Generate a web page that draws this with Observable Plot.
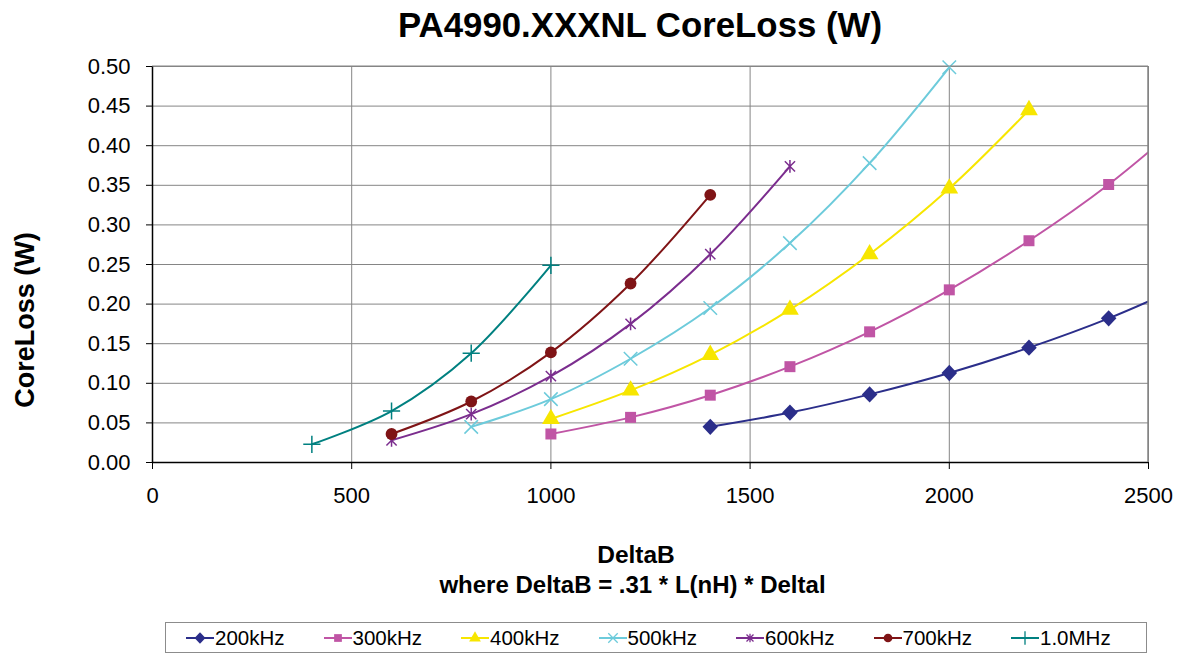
<!DOCTYPE html>
<html>
<head>
<meta charset="utf-8">
<script src="https://cdn.jsdelivr.net/npm/d3@7"></script>
<script src="https://cdn.jsdelivr.net/npm/@observablehq/plot@0.6"></script>
<style>
  html, body { margin: 0; padding: 0; background: #fff; }
  body { font-family: "Liberation Sans", Arial, sans-serif; }
  #wrap { position: relative; width: 1183px; height: 654px; overflow: hidden; }
  .abs { position: absolute; white-space: nowrap; }
  #title { left: 0; width: 1280px; top: 5px; text-align: center; font-size: 34.8px; font-weight: bold; line-height: 40px; }
  #ylab { left: -175px; width: 400px; top: 303px; height: 34px; line-height: 34px; text-align: center; font-size: 27px; font-weight: bold; transform: rotate(-90deg); }
  #chart { left: 0; top: 50px; }
  #xlab { left: 0; width: 1272px; top: 540px; text-align: center; font-size: 24.5px; font-weight: bold; line-height: 30px; }
  #xsub { left: 0; width: 1265px; top: 571px; text-align: center; font-size: 24px; font-weight: bold; line-height: 28px; }
  #legend { left: 165px; top: 622px; width: 982px; height: 31px; border: 1px solid #8c8c8c; box-sizing: border-box; }
  .item { position: absolute; top: 0; height: 29px; display: flex; align-items: center; font-size: 20.5px; }
  .item svg { display: block; }
</style>
</head>
<body>
<div id="wrap">
  <div id="title" class="abs">PA4990.XXXNL CoreLoss (W)</div>
  <div id="chart" class="abs"></div>
  <div id="ylab" class="abs">CoreLoss (W)</div>
  <div id="xlab" class="abs">DeltaB</div>
  <div id="xsub" class="abs">where DeltaB = .31 * L(nH) * Deltal</div>
  <div id="legend" class="abs"></div>
</div>
<script>
// ---- data ----
const seriesNames = ["200kHz", "300kHz", "400kHz", "500kHz", "600kHz", "700kHz", "1.0MHz"];
const seriesColors = ["#2b2e8a", "#c055a5", "#f7e600", "#6dcbdb", "#7b2d8e", "#7f1416", "#008080"];
const seriesSymbols = ["diamond", "square", "triangle", "times", "star", "circle", "plus"];
const seriesFilled = [true, true, true, false, false, true, false];

const x200 = [1400, 1600, 1800, 2000, 2200, 2400, 2600];
const y200 = [0.045, 0.063, 0.086, 0.113, 0.145, 0.182, 0.226];
const x300 = [1000, 1200, 1400, 1600, 1800, 2000, 2200, 2400, 2600];
const y300 = [0.036, 0.057, 0.085, 0.121, 0.165, 0.218, 0.280, 0.351, 0.435];
const x400 = [1000, 1200, 1400, 1600, 1800, 2000, 2200];
const y400 = [0.055, 0.091, 0.136, 0.193, 0.263, 0.346, 0.445];
const x500 = [800, 1000, 1200, 1400, 1600, 1800, 2000];
const y500 = [0.045, 0.080, 0.131, 0.195, 0.277, 0.378, 0.499];
const x600 = [600, 800, 1000, 1200, 1400, 1600];
const y600 = [0.028, 0.061, 0.109, 0.175, 0.263, 0.374];
const x700 = [600, 800, 1000, 1200, 1400];
const y700 = [0.036, 0.077, 0.139, 0.226, 0.338];
const x1000 = [400, 600, 800, 1000];
const y1000 = [0.023, 0.065, 0.138, 0.249];

const xTicks = [0, 500, 1000, 1500, 2000, 2500];
const yTicks = [0, 0.05, 0.10, 0.15, 0.20, 0.25, 0.30, 0.35, 0.40, 0.45, 0.50];

const xs = [x200, x300, x400, x500, x600, x700, x1000];
const ys = [y200, y300, y400, y500, y600, y700, y1000];
const tables = xs.map((xa, i) => xa.map((x, j) => ({x, y: ys[i][j]})));

// Excel-style marker shapes
const excelDiamond = {
  draw(ctx, size) {
    const r = Math.sqrt(size / 2);
    ctx.moveTo(0, -r * 1.05); ctx.lineTo(r, 0); ctx.lineTo(0, r * 1.05); ctx.lineTo(-r, 0); ctx.closePath();
  }
};
const excelStar = {
  draw(ctx, size) {
    const r = Math.sqrt(size / Math.PI);
    const a = r * 0.8;
    ctx.moveTo(-a, -a); ctx.lineTo(a, a);
    ctx.moveTo(-a, a); ctx.lineTo(a, -a);
    ctx.moveTo(0, -r); ctx.lineTo(0, r);
  }
};
const symFor = s => s === "diamond" ? excelDiamond : s === "star" ? excelStar : s;
const rFor = s => ({diamond: 6.2, square: 6.2, triangle: 6.6, circle: 5.9, times: 6.2, star: 6.4, plus: 5.6})[s];

const marks = [
  Plot.gridY(yTicks.filter(d => d > 0), {stroke: "#858585", strokeOpacity: 1, strokeWidth: 1}),
  Plot.gridX(xTicks.filter(d => d > 0), {stroke: "#858585", strokeOpacity: 1, strokeWidth: 1}),
  Plot.axisX(xTicks, {tickSize: 7, tickPadding: 18, fontSize: 22, stroke: "#000", tickFormat: d => String(d), label: null}),
  Plot.axisY(yTicks, {tickSize: 6, tickPadding: 16, fontSize: 22, stroke: "#000", tickFormat: d3.format(".2f"), label: null}),
  Plot.ruleX([0], {stroke: "#000", strokeWidth: 1.5}),
  Plot.ruleY([0], {stroke: "#000", strokeWidth: 1.5})
];

tables.forEach((t, i) => {
  marks.push(Plot.line(t, {x: "x", y: "y", stroke: seriesColors[i], strokeWidth: 2, curve: "catmull-rom", clip: true}));
  const pts = t.filter(d => d.x <= 2500);
  const s = seriesSymbols[i];
  if (seriesFilled[i]) {
    marks.push(Plot.dot(pts, {x: "x", y: "y", symbol: symFor(s), fill: seriesColors[i], stroke: "none", r: rFor(s)}));
  } else {
    marks.push(Plot.dot(pts, {x: "x", y: "y", symbol: symFor(s), stroke: seriesColors[i], fill: "none", strokeWidth: 1.5, r: rFor(s)}));
  }
});

const chart = Plot.plot({
  width: 1183,
  height: 480,
  marginTop: 16,
  marginBottom: 68,
  marginLeft: 152,
  marginRight: 35,
  style: {fontFamily: "'Liberation Sans', Arial, sans-serif", color: "#000", background: "#fff", overflow: "visible"},
  x: {domain: [0, 2500], axis: null},
  y: {domain: [0, 0.5], axis: null},
  marks
});
document.getElementById("chart").appendChild(chart);
// gray frame on top & right
const svg = d3.select(chart);
svg.append("line").attr("x1", 152).attr("x2", 1148).attr("y1", 16).attr("y2", 16).attr("stroke", "#858585");
svg.append("line").attr("x1", 1148).attr("x2", 1148).attr("y1", 16).attr("y2", 412).attr("stroke", "#858585").attr("stroke-width", 1.5);

// ---- legend ----
const legend = d3.select("#legend");
const itemLeft = [19, 156.5, 294, 431.5, 569, 706.5, 844];
const symMap = {diamond: excelDiamond, star: excelStar, square: d3.symbolSquare, triangle: d3.symbolTriangle, times: d3.symbolTimes, circle: d3.symbolCircle, plus: d3.symbolPlus};
seriesNames.forEach((name, i) => {
  const item = legend.append("div").attr("class", "item").style("left", itemLeft[i] + "px");
  const s = item.append("svg").attr("width", 30).attr("height", 20);
  s.append("line").attr("x1", 1).attr("x2", 29).attr("y1", 10).attr("y2", 10).attr("stroke", seriesColors[i]).attr("stroke-width", 2);
  const sym = seriesSymbols[i];
  const p = s.append("path").attr("transform", "translate(15,10)").attr("d", d3.symbol(symMap[sym], 60)());
  if (seriesFilled[i]) p.attr("fill", seriesColors[i]);
  else p.attr("fill", "none").attr("stroke", seriesColors[i]).attr("stroke-width", 1.3);
  item.append("span").text(name);
});
</script>
</body>
</html>
